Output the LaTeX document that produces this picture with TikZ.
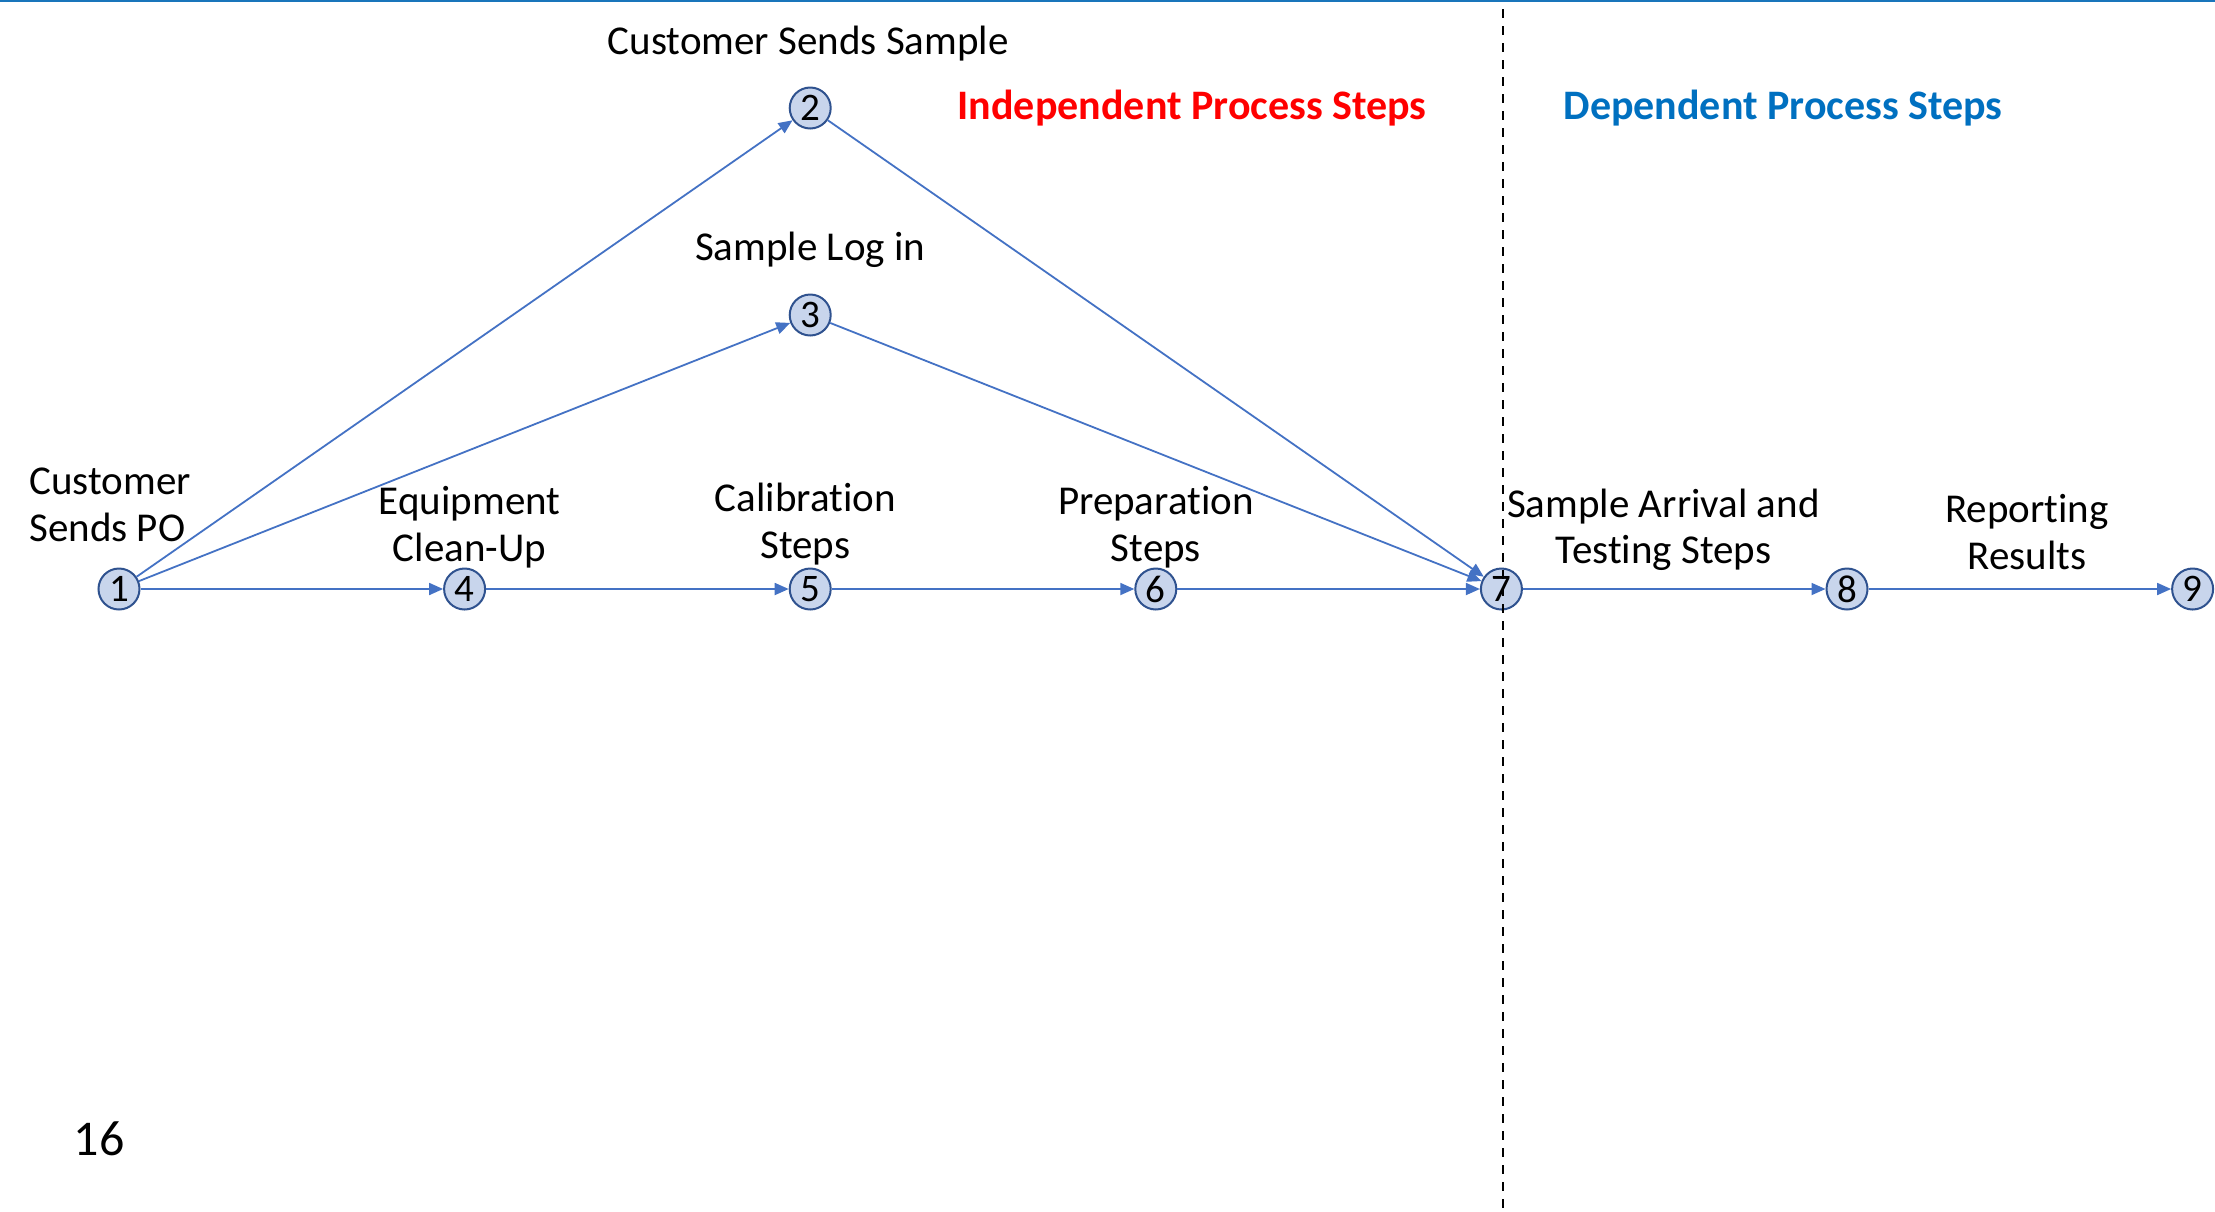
\documentclass[tikz,border=0pt]{standalone}
\usepackage{fontspec}
\setmainfont{Carlito}[Ligatures=NoCommon]
\usetikzlibrary{arrows.meta, positioning}
\definecolor{edgeblue}{RGB}{68,114,196}
\definecolor{stepfill}{RGB}{200,213,236}
\definecolor{stepline}{RGB}{47,82,143}
\definecolor{depblue}{RGB}{0,112,192}
\definecolor{topblue}{RGB}{25,117,187}
\tikzset{
  stepnode/.style={circle, draw=stepline, line width=1pt, fill=stepfill,
    minimum size=20.5pt, inner sep=0pt, font=\fontsize{19.5}{19.5}\selectfont},
  steptext/.style={align=center, inner sep=0pt, font=\fontsize{20.5}{23.25}\selectfont},
  headtext/.style={inner sep=0pt, font=\bfseries\fontsize{21}{21}\selectfont}
}
\begin{document}
\begin{tikzpicture}[>={Triangle[length=7pt,width=6pt]}, node distance=172.8pt, on grid]
   \useasboundingbox (0,0) rectangle (1107.5pt,-605.5pt);
   \draw[topblue, line width=1pt] (0,-0.5pt) -- (1107.5pt,-0.5pt);
   % process steps
   \node[stepnode] (1) at (59.5pt,-294.5pt) {1};
   \node[stepnode] (4) [right=of 1] {4};
   \node[stepnode] (5) [right=of 4] {5};
   \node[stepnode] (6) [right=of 5] {6};
   \node[stepnode] (7) [right=of 6] {7};
   \node[stepnode] (8) [right=of 7] {8};
   \node[stepnode] (9) [right=of 8] {9};
   \node[stepnode] (3) [above=137pt of 5] {3};
   \node[stepnode] (2) [above=240.5pt of 5] {2};
   % step names
   \node[steptext, align=left] (t1) [above=42pt of 1, xshift=-4.5pt] {Customer\\Sends PO};
   \node[steptext] (t2) [above=32pt of 2, xshift=-1pt] {Customer Sends Sample};
   \node[steptext] (t3) [above=32.5pt of 3] {Sample Log in};
   \node[steptext] (t4) [above=31pt of 4, xshift=2.5pt] {Equipment\\Clean-Up};
   \node[steptext] (t5) [above=32.5pt of 5, xshift=-2.5pt] {Calibration\\Steps};
   \node[steptext] (t6) [above=31pt of 6] {Preparation\\Steps};
   \node[steptext] (t7) [above=29.5pt of 7, xshift=81pt] {Sample Arrival and\\Testing Steps};
   \node[steptext] (t8) [above=28.5pt of 8, xshift=90pt] {Reporting\\Results};
   \path[->, edgeblue, line width=0.9pt]
    (1) edge (2)
    (1) edge (3)
    (1) edge (4)
    (2) edge (7)
    (3) edge (7)
    (4) edge (5)
    (5) edge (6)
    (6) edge (7)
    (7) edge (8)
    (8) edge (9);
   % divider between the two groups
   \coordinate (dtop) at (751.5pt,-4.5pt);
   \coordinate (dbot) at (751.5pt,-605.5pt);
   \draw[line width=1pt, dash pattern=on 4.5pt off 4pt] (dtop) -- (dbot);
   \node[headtext, text=red] (indep) at (596pt,-54pt) {Independent Process Steps};
   \node[headtext, text=depblue] (dep) at (891.5pt,-54pt) {Dependent Process Steps};
   \node[font=\fontsize{25}{25}\selectfont] (page) at (49.5pt,-569.5pt) {16};
\end{tikzpicture}
\end{document}
